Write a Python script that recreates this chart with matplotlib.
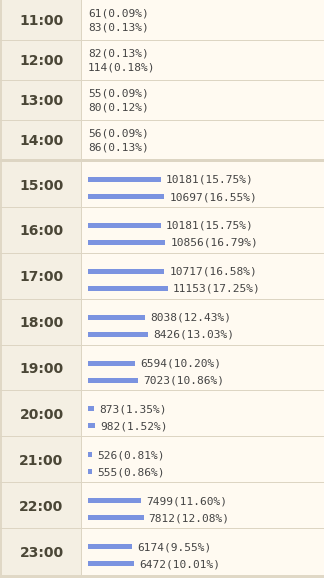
import matplotlib
matplotlib.use("Agg")
import matplotlib.pyplot as plt
from matplotlib.patches import Rectangle

# ---- data ----
top_hours = ["11:00", "12:00", "13:00", "14:00"]
top_a = [61, 82, 55, 56]
top_a_pct = [0.09, 0.13, 0.09, 0.09]
top_b = [83, 114, 80, 86]
top_b_pct = [0.13, 0.18, 0.12, 0.13]

hours = ["15:00", "16:00", "17:00", "18:00", "19:00",
         "20:00", "21:00", "22:00", "23:00"]
vals_a = [10181, 10181, 10717, 8038, 6594, 873, 526, 7499, 6174]
pct_a = [15.75, 15.75, 16.58, 12.43, 10.20, 1.35, 0.81, 11.60, 9.55]
vals_b = [10697, 10856, 11153, 8426, 7023, 982, 555, 7812, 6472]
pct_b = [16.55, 16.79, 17.25, 13.03, 10.86, 1.52, 0.86, 12.08, 10.01]

# ---- style ----
W, H = 324, 578
C_LEFT = "#f4efe3"
C_RIGHT = "#fffaf1"
C_LINE = "#ddd5c3"
C_BORDER = "#e0d8c6"
C_BAR = "#7b93e0"
C_TXT = "#444444"
C_HOUR = "#4a4636"
PX_PER_UNIT = 0.00713

fig = plt.figure(figsize=(W / 100, H / 100), dpi=100)
ax = fig.add_axes([0, 0, 1, 1])
ax.set_xlim(0, W)
ax.set_ylim(H, 0)
ax.axis("off")

# backgrounds
ax.add_patch(Rectangle((0, 0), 81, H, color=C_LEFT, lw=0))
ax.add_patch(Rectangle((81, 0), W - 81, H, color=C_RIGHT, lw=0))
ax.add_patch(Rectangle((0, 0), 2, H, color=C_BORDER, lw=0))
ax.add_patch(Rectangle((81, 0), 1, H, color=C_LINE, lw=0))
ax.add_patch(Rectangle((0, 575), W, 3, color=C_BORDER, lw=0))

# top section (text only)
row_h_top = 40
for i, hr in enumerate(top_hours):
    top = i * row_h_top
    if i > 0:
        ax.add_patch(Rectangle((0, top), W, 1, color=C_LINE, lw=0))
    ax.text(41.5, top + 21, hr, ha="center", va="center",
            fontsize=10, fontweight="bold", color=C_HOUR, family="DejaVu Sans")
    ax.text(88, top + 13.5, f"{top_a[i]}({top_a_pct[i]:.2f}%)", ha="left",
            va="center", fontsize=8, color=C_TXT, family="DejaVu Sans Mono")
    ax.text(88, top + 27, f"{top_b[i]}({top_b_pct[i]:.2f}%)", ha="left",
            va="center", fontsize=8, color=C_TXT, family="DejaVu Sans Mono")

# thick separator
ax.add_patch(Rectangle((0, 159), W, 2.5, color=C_LINE, lw=0))

# main section
start = 162
row_h = (575 - start) / len(hours)
tops = [start + k * row_h for k in range(len(hours))]
for k, top in enumerate(tops):
    if k > 0:
        ax.add_patch(Rectangle((0, round(top) - 1), W, 1, color=C_LINE, lw=0))
    ax.text(41.5, top + 23.5, hours[k], ha="center", va="center",
            fontsize=10, fontweight="bold", color=C_HOUR, family="DejaVu Sans")

# bars in their own axes, sharing the pixel y scale
bx0 = 88
bax = fig.add_axes([bx0 / W, 0, (W - bx0) / W, 1])
bax.set_xlim(0, (W - bx0) / PX_PER_UNIT)
bax.set_ylim(H, 0)
bax.axis("off")
bax.patch.set_alpha(0)

y_a = [t + 17.5 for t in tops]
y_b = [t + 34.5 for t in tops]
bax.barh(y_a, vals_a, height=5, color=C_BAR, align="center")
bax.barh(y_b, vals_b, height=5, color=C_BAR, align="center")

for v, p, y in zip(vals_a, pct_a, y_a):
    bax.annotate(f"{v}({p:.2f}%)", xy=(v, y), xytext=(5, -0.5),
                 textcoords="offset pixels", ha="left", va="center",
                 fontsize=8, color=C_TXT, family="DejaVu Sans Mono")
for v, p, y in zip(vals_b, pct_b, y_b):
    bax.annotate(f"{v}({p:.2f}%)", xy=(v, y), xytext=(5, -0.5),
                 textcoords="offset pixels", ha="left", va="center",
                 fontsize=8, color=C_TXT, family="DejaVu Sans Mono")

fig.savefig("out.png", dpi=100)
